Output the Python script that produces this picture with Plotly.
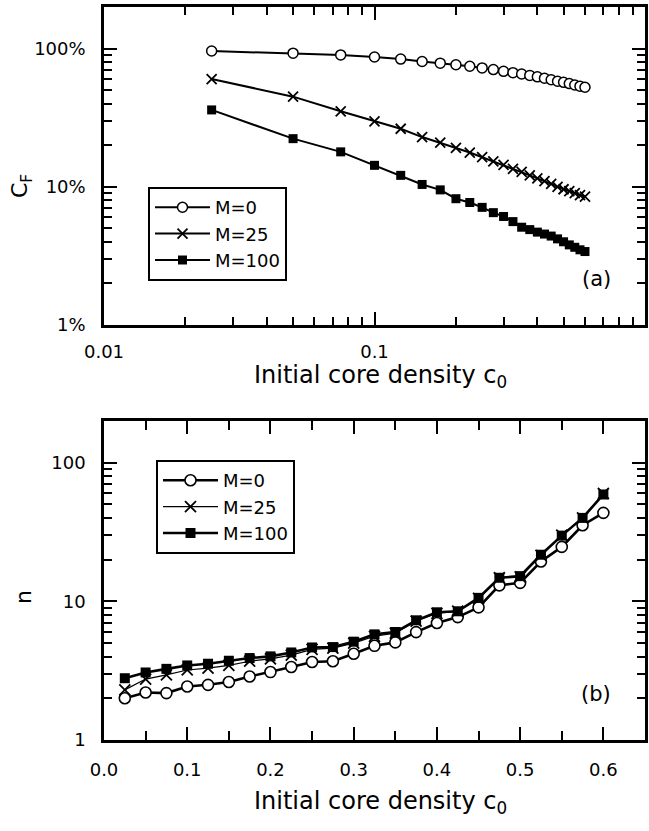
import plotly.graph_objects as go

c0 = [0.025, 0.05, 0.075, 0.1, 0.125, 0.15, 0.175, 0.2, 0.225, 0.25, 0.275, 0.3,
      0.325, 0.35, 0.375, 0.4, 0.425, 0.45, 0.475, 0.5, 0.525, 0.55, 0.575, 0.6]

# Panel (a): C_F in percent
cf_m0 = [96, 92.7, 90, 87, 84, 80.6, 78.5, 76.4, 74.5, 72.5, 70.5, 68.5,
         67, 65.5, 64, 62.5, 61, 59.5, 58, 57, 55.8, 54.5, 53.5, 52.5]
cf_m25 = [60.2, 44.9, 35.2, 29.7, 26.3, 22.9, 20.9, 19.1, 17.7, 16.4, 15.3, 14.4,
          13.5, 12.8, 12.1, 11.5, 11.0, 10.5, 10.0, 9.6, 9.3, 9.0, 8.7, 8.5]
cf_m100 = [36, 22.3, 17.9, 14.3, 12.1, 10.4, 9.5, 8.2, 7.7, 7.1, 6.5, 6.1,
           5.6, 5.1, 4.9, 4.7, 4.55, 4.4, 4.2, 4.0, 3.8, 3.65, 3.5, 3.4]

# Panel (b): n
n_m0 = [2.0, 2.2, 2.18, 2.43, 2.5, 2.62, 2.87, 3.09, 3.36, 3.65, 3.7, 4.19,
        4.78, 5.06, 6.0, 6.98, 7.7, 9.05, 13.05, 13.6, 19.4, 24.7, 35.4, 43.5]
n_m25 = [2.3, 2.75, 2.95, 3.2, 3.3, 3.45, 3.7, 3.85, 4.1, 4.5, 4.6, 5.0,
         5.6, 5.9, 7.2, 8.2, 8.5, 10.5, 14.8, 15.0, 21.5, 30, 40, 60]
n_m100 = [2.79, 3.07, 3.26, 3.45, 3.55, 3.73, 3.9, 4.01, 4.28, 4.65, 4.68, 5.12,
          5.78, 6.01, 7.3, 8.34, 8.48, 10.6, 14.8, 15.2, 21.7, 29.8, 40, 59]

labels = ["M=0", "M=25", "M=100"]
x_title = "Initial core density c<sub>0</sub>"

FONT = "DejaVu Sans, Liberation Sans, sans-serif"
W, H = 649, 831
fig = go.Figure()

styles_a = [
    dict(symbol="circle", size=10, color="white", line=dict(width=1.5, color="black")),
    dict(symbol="x-thin-open", size=10, color="black", line=dict(width=1.8, color="black")),
    dict(symbol="square", size=9, color="black", line=dict(width=0, color="black")),
]
styles_b = [
    dict(symbol="circle", size=11, color="white", line=dict(width=1.6, color="black")),
    dict(symbol="x-thin-open", size=11, color="black", line=dict(width=1.8, color="black")),
    dict(symbol="square", size=10, color="black", line=dict(width=0, color="black")),
]

for ys, lab, st in zip([cf_m0, cf_m25, cf_m100], labels, styles_a):
    fig.add_trace(go.Scatter(x=c0, y=ys, name=lab, mode="lines+markers",
                             line=dict(color="black", width=2), marker=st,
                             xaxis="x", yaxis="y", legend="legend"))

bwidths = [2.6, 1.2, 2.6]
for ys, lab, st, w in zip([n_m0, n_m25, n_m100], labels, styles_b, bwidths):
    fig.add_trace(go.Scatter(x=c0, y=ys, name=lab, mode="lines+markers",
                             line=dict(color="black", width=w), marker=st,
                             xaxis="x2", yaxis="y2", legend="legend2"))

axis_common = dict(showline=True, linecolor="black", linewidth=2.5, mirror="allticks",
                   ticks="inside", ticklen=13, tickwidth=2, tickcolor="black",
                   showgrid=False, zeroline=False, automargin=False,
                   tickfont=dict(family=FONT, size=18, color="black"))
minor_log = dict(ticks="inside", ticklen=8, tickwidth=2, tickcolor="black",
                 dtick="D1", showgrid=False)

xd = [104 / W, 645 / W]
ya = [1 - 325 / H, 1 - 7 / H]
yb = [1 - 740 / H, 1 - 421 / H]

legend_common = dict(xanchor="left", yanchor="top", bordercolor="black", borderwidth=2,
                     bgcolor="white", font=dict(family=FONT, size=18, color="black"),
                     tracegroupgap=0, itemwidth=55)

fig.update_layout(
    width=W, height=H,
    margin=dict(l=0, r=0, t=0, b=0),
    paper_bgcolor="white", plot_bgcolor="white",
    font=dict(family=FONT, color="black"),
    xaxis=dict(axis_common, type="log", range=[-2, 0], domain=xd, anchor="y",
               tickvals=[0.01, 0.1, 1], ticktext=["0.01", "0.1", "1"],
               ticklabelstandoff=9, minor=minor_log),
    yaxis=dict(axis_common, type="log", range=[0, 2.301], domain=ya, anchor="x",
               tickvals=[1, 10, 100], ticktext=["1%", "10%", "100%"],
               ticklabelstandoff=12, minor=minor_log),
    xaxis2=dict(axis_common, range=[0, 0.65], domain=xd, anchor="y2",
                tickvals=[0, 0.1, 0.2, 0.3, 0.4, 0.5, 0.6],
                ticktext=["0.0", "0.1", "0.2", "0.3", "0.4", "0.5", "0.6"],
                ticklabelstandoff=12,
                minor=dict(ticks="inside", ticklen=9, tickwidth=2, tickcolor="black",
                           dtick=0.05, showgrid=False)),
    yaxis2=dict(axis_common, type="log", range=[0, 2.301], domain=yb, anchor="x2",
                tickvals=[1, 10, 100], ticktext=["1", "10", "100"],
                ticklabelstandoff=12, minor=minor_log),
    legend=dict(legend_common, x=148 / W, y=1 - 187 / H),
    legend2=dict(legend_common, x=156 / W, y=1 - 460 / H),
    annotations=[
        dict(text="(a)", x=0.94, y=0.10, xref="x domain", yref="y domain",
             xanchor="right", yanchor="bottom", showarrow=False,
             font=dict(family=FONT, size=21, color="black")),
        dict(text="(b)", x=0.94, y=0.10, xref="x2 domain", yref="y2 domain",
             xanchor="right", yanchor="bottom", showarrow=False,
             font=dict(family=FONT, size=21, color="black")),
        dict(text=x_title, x=380 / W, y=1 - 376 / H, xref="paper", yref="paper",
             xanchor="center", yanchor="middle", showarrow=False,
             font=dict(family=FONT, size=24, color="black")),
        dict(text=x_title, x=380 / W, y=1 - 802 / H, xref="paper", yref="paper",
             xanchor="center", yanchor="middle", showarrow=False,
             font=dict(family=FONT, size=24, color="black")),
        dict(text="C<sub>F</sub>", x=22 / W, y=1 - 186 / H, xref="paper", yref="paper",
             xanchor="center", yanchor="middle", showarrow=False, textangle=-90,
             font=dict(family=FONT, size=22, color="black")),
        dict(text="n", x=23 / W, y=1 - 597 / H, xref="paper", yref="paper",
             xanchor="center", yanchor="middle", showarrow=False, textangle=-90,
             font=dict(family=FONT, size=22, color="black")),
    ],
)

fig.write_html("out.html")
